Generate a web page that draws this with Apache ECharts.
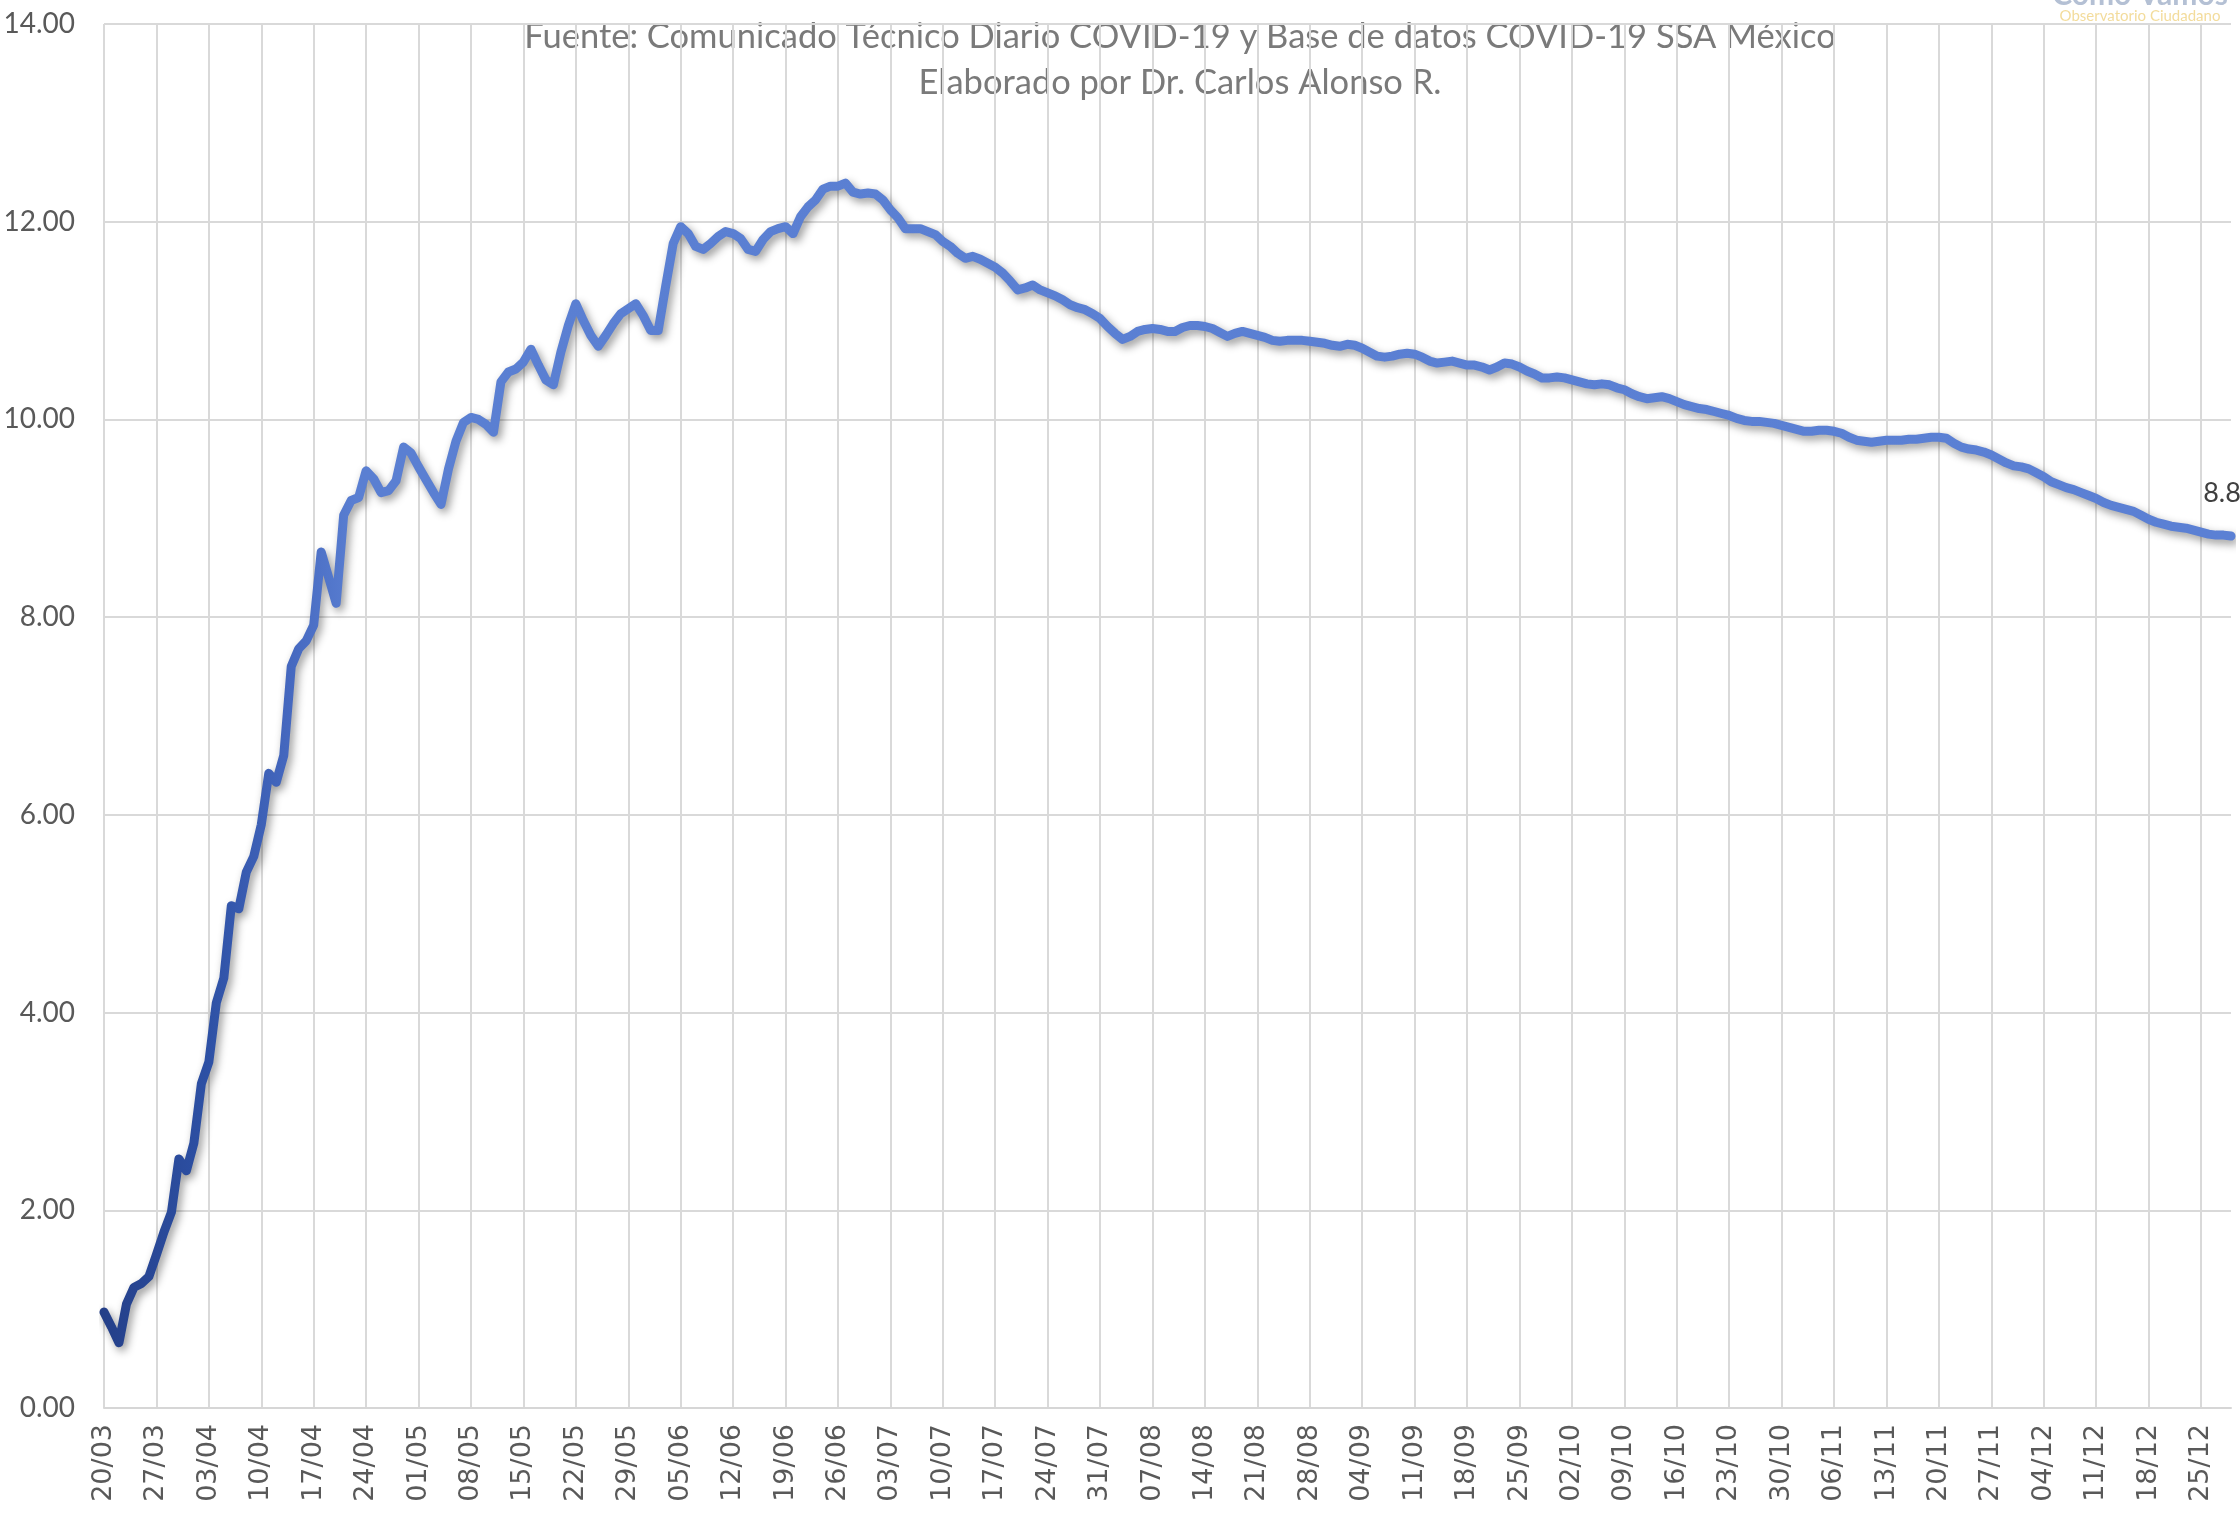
<!DOCTYPE html>
<html>
<head>
<meta charset="utf-8">
<script src="https://cdn.jsdelivr.net/npm/echarts@6/dist/echarts.min.js"></script>
<style>
  html, body { margin: 0; padding: 0; background: #ffffff; }
  #chart { width: 2240px; height: 1517px; }
</style>
</head>
<body>
<div id="chart"></div>
<script>
// ---- Data ----
const categories = [
  "20/03","21/03","22/03","23/03","24/03","25/03","26/03","27/03","28/03","29/03","30/03","31/03",
  "01/04","02/04","03/04","04/04","05/04","06/04","07/04","08/04","09/04","10/04","11/04","12/04","13/04","14/04","15/04","16/04","17/04","18/04","19/04","20/04","21/04","22/04","23/04","24/04","25/04","26/04","27/04","28/04","29/04","30/04",
  "01/05","02/05","03/05","04/05","05/05","06/05","07/05","08/05","09/05","10/05","11/05","12/05","13/05","14/05","15/05","16/05","17/05","18/05","19/05","20/05","21/05","22/05","23/05","24/05","25/05","26/05","27/05","28/05","29/05","30/05","31/05",
  "01/06","02/06","03/06","04/06","05/06","06/06","07/06","08/06","09/06","10/06","11/06","12/06","13/06","14/06","15/06","16/06","17/06","18/06","19/06","20/06","21/06","22/06","23/06","24/06","25/06","26/06","27/06","28/06","29/06","30/06",
  "01/07","02/07","03/07","04/07","05/07","06/07","07/07","08/07","09/07","10/07","11/07","12/07","13/07","14/07","15/07","16/07","17/07","18/07","19/07","20/07","21/07","22/07","23/07","24/07","25/07","26/07","27/07","28/07","29/07","30/07","31/07",
  "01/08","02/08","03/08","04/08","05/08","06/08","07/08","08/08","09/08","10/08","11/08","12/08","13/08","14/08","15/08","16/08","17/08","18/08","19/08","20/08","21/08","22/08","23/08","24/08","25/08","26/08","27/08","28/08","29/08","30/08","31/08",
  "01/09","02/09","03/09","04/09","05/09","06/09","07/09","08/09","09/09","10/09","11/09","12/09","13/09","14/09","15/09","16/09","17/09","18/09","19/09","20/09","21/09","22/09","23/09","24/09","25/09","26/09","27/09","28/09","29/09","30/09",
  "01/10","02/10","03/10","04/10","05/10","06/10","07/10","08/10","09/10","10/10","11/10","12/10","13/10","14/10","15/10","16/10","17/10","18/10","19/10","20/10","21/10","22/10","23/10","24/10","25/10","26/10","27/10","28/10","29/10","30/10","31/10",
  "01/11","02/11","03/11","04/11","05/11","06/11","07/11","08/11","09/11","10/11","11/11","12/11","13/11","14/11","15/11","16/11","17/11","18/11","19/11","20/11","21/11","22/11","23/11","24/11","25/11","26/11","27/11","28/11","29/11","30/11",
  "01/12","02/12","03/12","04/12","05/12","06/12","07/12","08/12","09/12","10/12","11/12","12/12","13/12","14/12","15/12","16/12","17/12","18/12","19/12","20/12","21/12","22/12","23/12","24/12","25/12","26/12","27/12","28/12","29/12"
];

const valuesMar = [0.97,0.82,0.66,1.05,1.22,1.26,1.33,1.55,1.78,1.98,2.52,2.40];
const valuesApr = [2.68,3.28,3.50,4.10,4.35,5.08,5.05,5.42,5.58,5.90,6.42,6.33,6.60,7.50,7.68,7.76,7.92,8.66,8.40,8.14,9.03,9.18,9.21,9.48,9.40,9.26,9.28,9.38,9.72,9.66];
const valuesMay = [9.52,9.39,9.26,9.14,9.50,9.78,9.97,10.02,10.00,9.95,9.87,10.38,10.48,10.51,10.58,10.71,10.55,10.40,10.35,10.68,10.95,11.17,11.00,10.85,10.74,10.85,10.97,11.07,11.12,11.17,11.05];
const valuesJun = [10.90,10.90,11.35,11.78,11.95,11.88,11.75,11.72,11.78,11.85,11.90,11.88,11.83,11.72,11.70,11.82,11.90,11.93,11.95,11.88,12.05,12.15,12.22,12.33,12.36,12.36,12.39,12.30,12.28,12.29];
const valuesJul = [12.28,12.22,12.12,12.04,11.93,11.93,11.93,11.90,11.87,11.80,11.75,11.68,11.63,11.65,11.62,11.58,11.54,11.48,11.40,11.31,11.33,11.36,11.31,11.28,11.25,11.21,11.16,11.13,11.11,11.07,11.02];
const valuesAug = [10.94,10.87,10.81,10.84,10.89,10.91,10.92,10.91,10.89,10.89,10.93,10.95,10.95,10.94,10.92,10.88,10.84,10.87,10.89,10.87,10.85,10.83,10.80,10.79,10.80,10.80,10.80,10.79,10.78,10.77,10.75];
const valuesSep = [10.74,10.76,10.75,10.72,10.68,10.64,10.63,10.64,10.66,10.67,10.66,10.63,10.59,10.57,10.58,10.59,10.57,10.55,10.55,10.53,10.50,10.53,10.57,10.56,10.53,10.49,10.46,10.42,10.42,10.43];
const valuesOct = [10.42,10.40,10.38,10.36,10.35,10.36,10.35,10.32,10.30,10.26,10.23,10.21,10.22,10.23,10.21,10.18,10.15,10.13,10.11,10.10,10.08,10.06,10.04,10.01,9.99,9.98,9.98,9.97,9.96,9.94,9.92];
const valuesNov = [9.90,9.88,9.88,9.89,9.89,9.88,9.86,9.82,9.79,9.78,9.77,9.78,9.79,9.79,9.79,9.80,9.80,9.81,9.82,9.82,9.81,9.76,9.72,9.70,9.69,9.67,9.64,9.60,9.56,9.53];
const valuesDec = [9.52,9.50,9.46,9.42,9.37,9.34,9.31,9.29,9.26,9.23,9.20,9.16,9.13,9.11,9.09,9.07,9.03,8.99,8.96,8.94,8.92,8.91,8.90,8.88,8.86,8.84,8.83,8.83,8.82];

const values = [].concat(valuesMar, valuesApr, valuesMay, valuesJun, valuesJul, valuesAug, valuesSep, valuesOct, valuesNov, valuesDec);

const yTicks = { min: 0, max: 14, interval: 2 };

const subtitleLines = [
  "Fuente: Comunicado Técnico Diario COVID-19 y Base de datos COVID-19 SSA México",
  "Elaborado por Dr. Carlos Alonso R."
];
const logoTitle = "Cómo Vamos";
const logoSub = "Observatorio Ciudadano";

// ---- Chart ----
const chart = echarts.init(document.getElementById('chart'), null, { renderer: 'canvas' });
const lastIdx = values.length - 1;

const option = {
  backgroundColor: '#ffffff',
  animation: false,
  grid: { left: 104, right: 9, top: 24, bottom: 109, containLabel: false },
  xAxis: {
    type: 'category',
    data: categories,
    boundaryGap: false,
    axisLine: { show: true, lineStyle: { color: '#d6d6d6', width: 2 } },
    axisTick: { show: false },
    axisLabel: {
      interval: 6, rotate: 90, margin: 16,
      fontFamily: 'DejaVu Sans', fontSize: 27, color: '#595959'
    },
    splitLine: { show: true, interval: 6, lineStyle: { color: '#d9d9d9', width: 2 } }
  },
  yAxis: {
    type: 'value',
    min: yTicks.min, max: yTicks.max, interval: yTicks.interval,
    axisLine: { show: false },
    axisTick: { show: false },
    axisLabel: {
      margin: 29, fontFamily: 'Lato', fontSize: 28, color: '#595959',
      formatter: v => v.toFixed(2)
    },
    splitLine: { show: true, lineStyle: { color: '#d9d9d9', width: 2 } }
  },
  series: [{
    type: 'line',
    data: values,
    showSymbol: false,
    lineStyle: {
      width: 9,
      cap: 'round',
      join: 'round',
      color: new echarts.graphic.LinearGradient(0, 0, 1, 0, [
        { offset: 0, color: '#243f88' },
        { offset: 0.05, color: '#2d50a4' },
        { offset: 0.09, color: '#4669c0' },
        { offset: 0.12, color: '#5a7fd2' },
        { offset: 1, color: '#5b80d4' }
      ]),
      shadowColor: 'rgba(0,0,0,0.4)',
      shadowBlur: 8,
      shadowOffsetX: 3,
      shadowOffsetY: 4
    },
    markPoint: {
      symbol: 'circle',
      symbolSize: 0,
      data: [{ coord: [lastIdx, values[lastIdx]], value: values[lastIdx] }],
      label: {
        show: true,
        position: 'inside',
        offset: [-9, -43],
        formatter: p => Number(p.value).toFixed(1),
        fontFamily: 'Lato', fontSize: 27, color: '#404040'
      }
    }
  }],
  graphic: [
    {
      type: 'text', x: 1180, y: 37,
      style: { text: subtitleLines[0], fontFamily: 'Lato', fontSize: 34.5, fill: '#7a7a7a', textAlign: 'center', textVerticalAlign: 'middle' }
    },
    {
      type: 'text', x: 1180, y: 83,
      style: { text: subtitleLines[1], fontFamily: 'Lato', fontSize: 34.5, fill: '#7a7a7a', textAlign: 'center', textVerticalAlign: 'middle' }
    },
    {
      type: 'text', x: 2140, y: 10,
      style: { text: logoTitle, fontFamily: 'Lato', fontSize: 30, fontWeight: 'bold', fill: '#b4c0d4', textAlign: 'center', textVerticalAlign: 'bottom' }
    },
    {
      type: 'text', x: 2140, y: 16,
      style: { text: logoSub, fontFamily: 'Lato', fontSize: 15, fill: '#f3dc9c', textAlign: 'center', textVerticalAlign: 'middle' }
    }
  ]
};

chart.setOption(option);
</script>
</body>
</html>
